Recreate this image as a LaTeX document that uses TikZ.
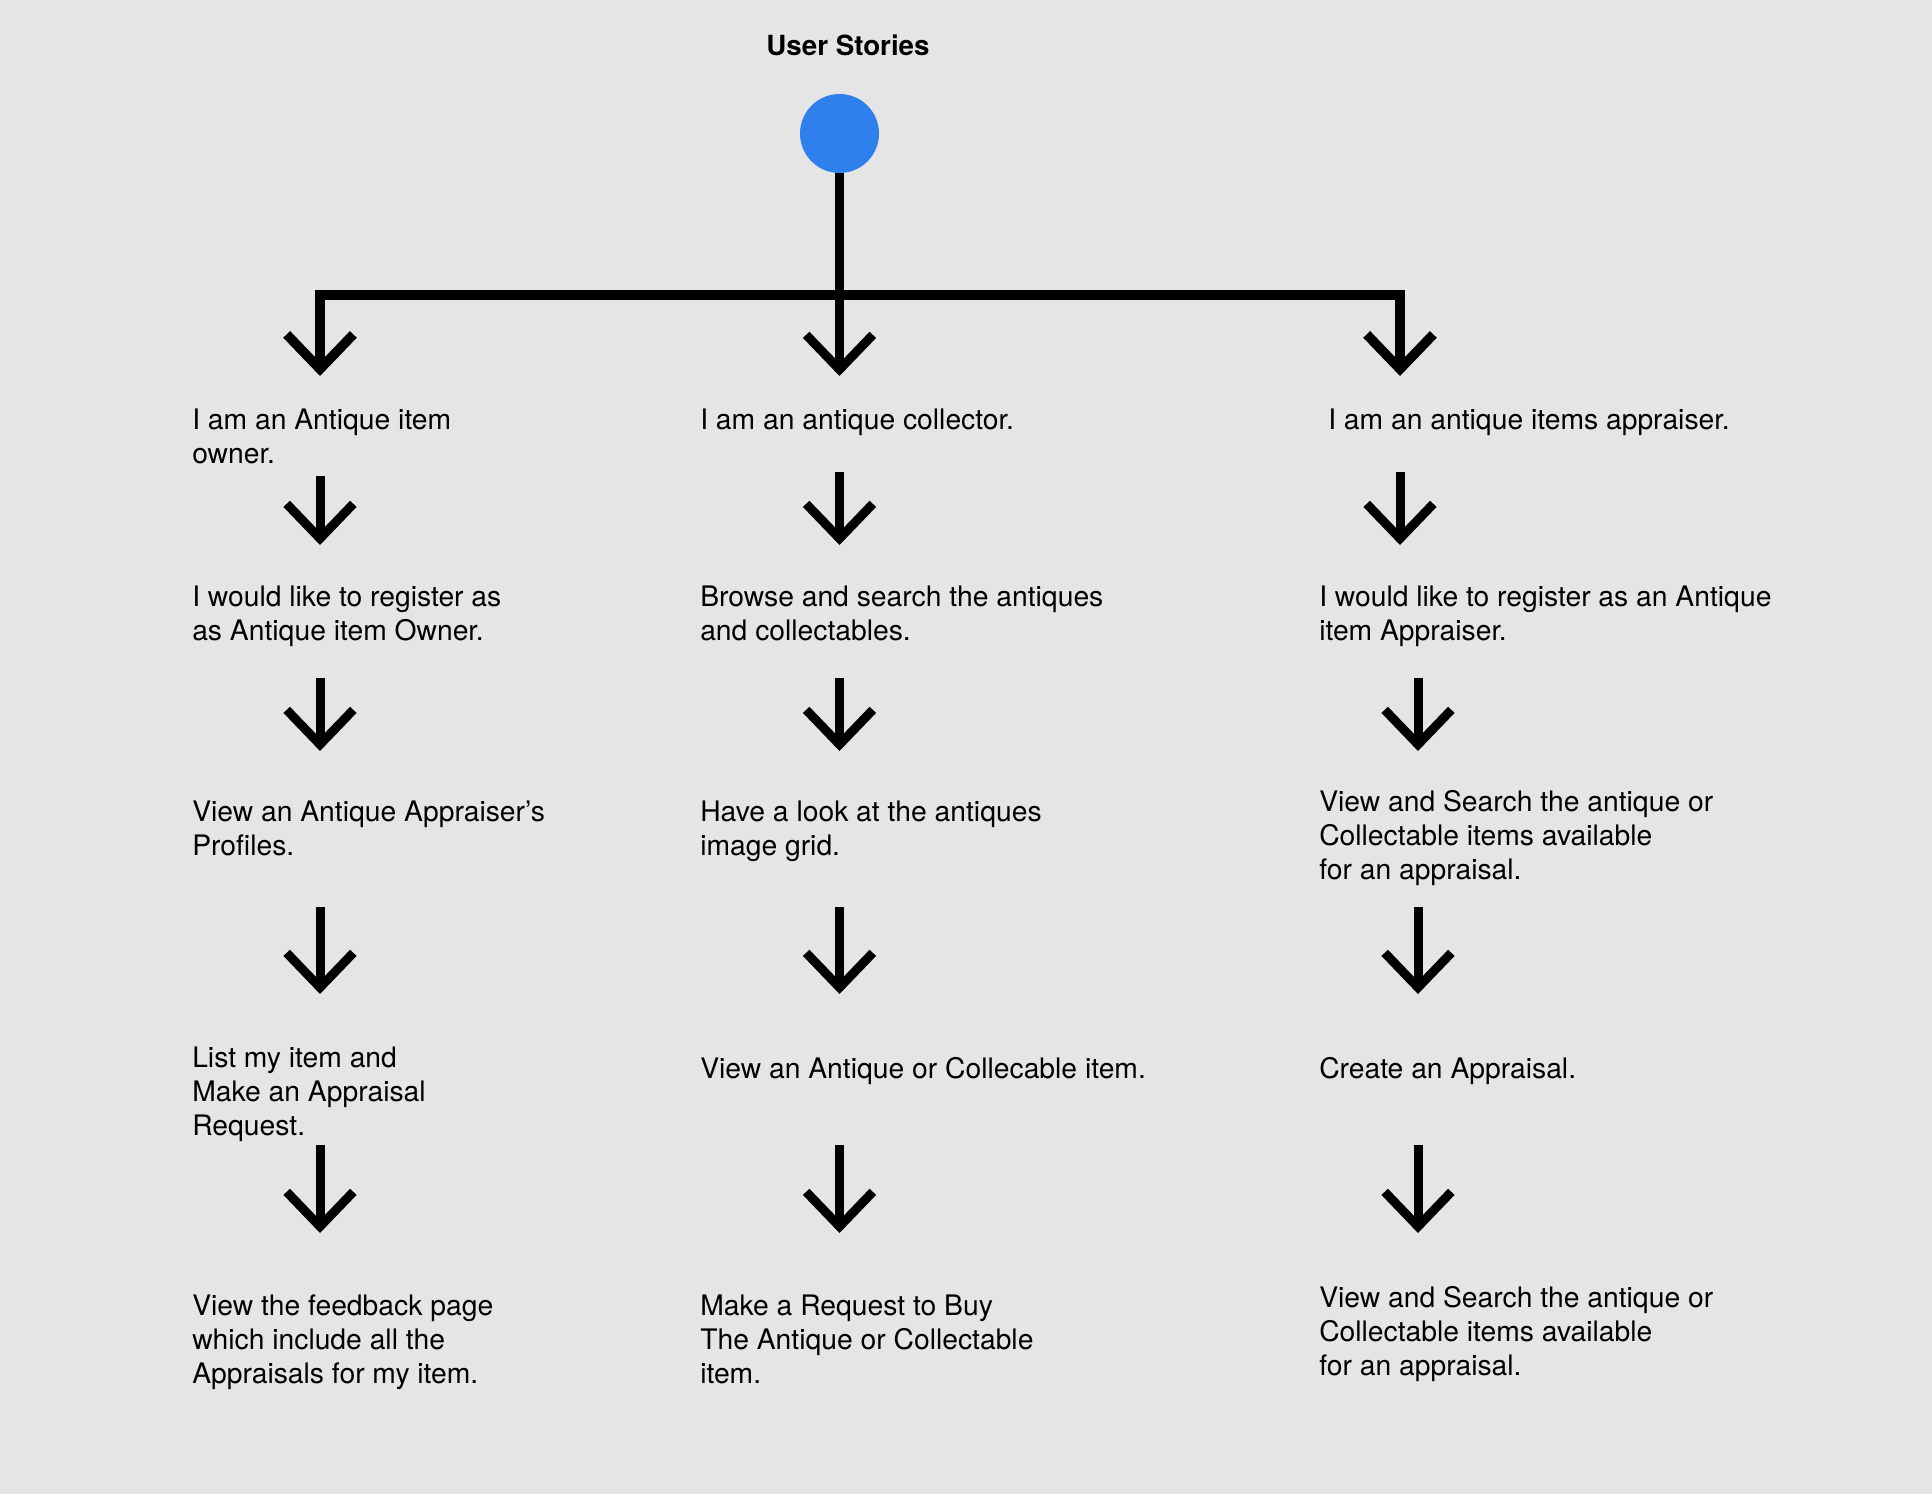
\documentclass[tikz,border=0pt]{standalone}
\usepackage{fontspec}
\setmainfont{TeX Gyre Heros}
\usetikzlibrary{arrows.meta}
\definecolor{bgc}{HTML}{E5E5E5}
\definecolor{dotc}{HTML}{2F80ED}
\begin{document}
\begin{tikzpicture}[x=0.75pt,y=-0.75pt,
  txt/.style={anchor=base west, align=left, inner sep=0pt, font=\fontsize{21.2}{25.5}\selectfont},
  titletxt/.style={anchor=base, inner sep=0pt, font=\fontsize{20.8}{25.5}\selectfont\bfseries},
  barb/.tip={Straight Barb[length=26pt,width=50pt,line join=miter,line cap=butt]},
  conn/.style={line width=6.75pt, -barb},
  fork/.style={line width=7.2pt, line join=miter, barb-barb}]
\useasboundingbox[fill=bgc] (0,0) rectangle (1932,1494);

\node[titletxt] (title) at (848,55.5) {User Stories};
\node[circle, fill=dotc, minimum size=59.25pt, inner sep=0pt] (root) at (839.5,133.5) {};

% base anchor = baseline of the last line
\node[txt] (a1) at (192,464) {I am an Antique item\\owner.};
\node[txt] (b1) at (700,430) {I am an antique collector.};
\node[txt] (c1) at (1328,430) {I am an antique items appraiser.};
\node[txt] (a2) at (192,640) {I would like to register as\\as Antique item Owner.};
\node[txt] (b2) at (700,640) {Browse and search the antiques\\and collectables.};
\node[txt] (c2) at (1319,640) {I would like to register as an Antique\\item Appraiser.};
\node[txt] (a3) at (192,855) {View an Antique Appraiser’s\\Profiles.};
\node[txt] (b3) at (700,855) {Have a look at the antiques\\image grid.};
\node[txt] (c3) at (1319,879) {View and Search the antique or\\Collectable items available\\for an appraisal.};
\node[txt] (a4) at (192,1135) {List my item and\\Make an Appraisal\\Request.};
\node[txt] (b4) at (700,1078) {View an Antique or Collecable item.};
\node[txt] (c4) at (1319,1078) {Create an Appraisal.};
\node[txt] (a5) at (192,1383) {View the feedback page\\which include all the\\Appraisals for my item.};
\node[txt] (b5) at (700,1383) {Make a Request to Buy\\The Antique or Collectable\\item.};
\node[txt] (c5) at (1319,1375) {View and Search the antique or\\Collectable items available\\for an appraisal.};

% fork from the root
\coordinate (jL) at (320,295);
\coordinate (jR) at (1400,295);
\coordinate (ta) at (320,376);
\coordinate (tb) at (839.5,376);
\coordinate (tc) at (1400,376);
\draw[fork] (ta) -- (jL) -- (jR) -- (tc);
\draw[conn] (root.south) -- (tb);

% column arrows
\foreach \n/\x/\ya/\yb in {a12/320/476/545, b12/839.5/472/545, c12/1400/472/545,
  a23/320/678/751, b23/839.5/678/751, c23/1418/678/751,
  a34/320/907/994, b34/839.5/907/994, c34/1418/907/994,
  a45/320/1145/1233, b45/839.5/1145/1233, c45/1418/1145/1233}{
  \coordinate (s\n) at (\x,\ya);
  \coordinate (e\n) at (\x,\yb);
  \draw[conn] (s\n) -- (e\n);
}
\end{tikzpicture}
\end{document}
